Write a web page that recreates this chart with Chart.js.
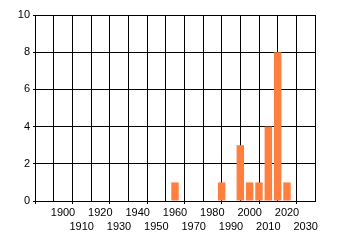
<!DOCTYPE html>
<html>
<head>
<meta charset="utf-8">
<script src="https://cdn.jsdelivr.net/npm/chart.js@4"></script>
<style>
    html, body { margin: 0; padding: 0; background: #fff; }
    #wrap { width: 340px; height: 245px; }
</style>
</head>
<body>
<div id="wrap"><canvas id="yearChart"></canvas></div>
<script>
// Counts per 5-year bin (bin centre year)
const years = [1960, 1985, 1995, 2000, 2005, 2010, 2015, 2020];
const counts = [1, 1, 3, 1, 1, 4, 8, 1];

// Axis ticks
const xTicks = [1890, 1900, 1910, 1920, 1930, 1940, 1950, 1960, 1970, 1980, 1990, 2000, 2010, 2020, 2030];
const yTicks = [0, 2, 4, 6, 8, 10];

const barColor = '#ff7f3f';
const font = { family: "'Liberation Sans', Arial, sans-serif", size: 11, lineHeight: 1.36 };

function isOddDecade(v) {
    return Math.round(v / 10) % 2 === 1;
}

new Chart(document.getElementById('yearChart'), {
    type: 'bar',
    data: {
        datasets: [{
            data: years.map((y, i) => ({ x: y, y: counts[i] })),
            backgroundColor: barColor,
            borderWidth: 0,
            barPercentage: 0.8,
            categoryPercentage: 1
        }]
    },
    options: {
        responsive: true,
        maintainAspectRatio: false,
        animation: false,
        layout: { padding: { left: 0, right: 25, top: 15, bottom: 0 } },
        plugins: {
            legend: { display: false },
            tooltip: { enabled: false }
        },
        scales: {
            x: {
                type: 'linear',
                min: xTicks[0],
                max: xTicks[xTicks.length - 1],
                afterBuildTicks: scale => {
                    scale.ticks = xTicks.map(v => ({ value: v }));
                },
                afterFit: scale => { scale.height = 44; },
                grid: {
                    color: '#000',
                    lineWidth: 1,
                    tickLength: 3,
                    tickColor: ctx => (ctx.tick && isOddDecade(ctx.tick.value)) ? '#000' : 'rgba(0,0,0,0)'
                },
                border: { color: '#000' },
                ticks: {
                    autoSkip: false,
                    maxRotation: 0,
                    padding: 1,
                    color: '#000',
                    font: font,
                    callback: v => {
                        if (v === xTicks[0]) return '';
                        return isOddDecade(v) ? ['', String(v)] : String(v);
                    }
                }
            },
            y: {
                min: 0,
                max: 10,
                afterBuildTicks: scale => {
                    scale.ticks = yTicks.map(v => ({ value: v }));
                },
                afterFit: scale => { scale.width = 35; },
                grid: {
                    color: '#000',
                    lineWidth: 1,
                    tickLength: 2
                },
                border: { color: '#000' },
                ticks: {
                    padding: 3,
                    color: '#000',
                    font: { family: font.family, size: 11 }
                }
            }
        }
    }
});
</script>
</body>
</html>
